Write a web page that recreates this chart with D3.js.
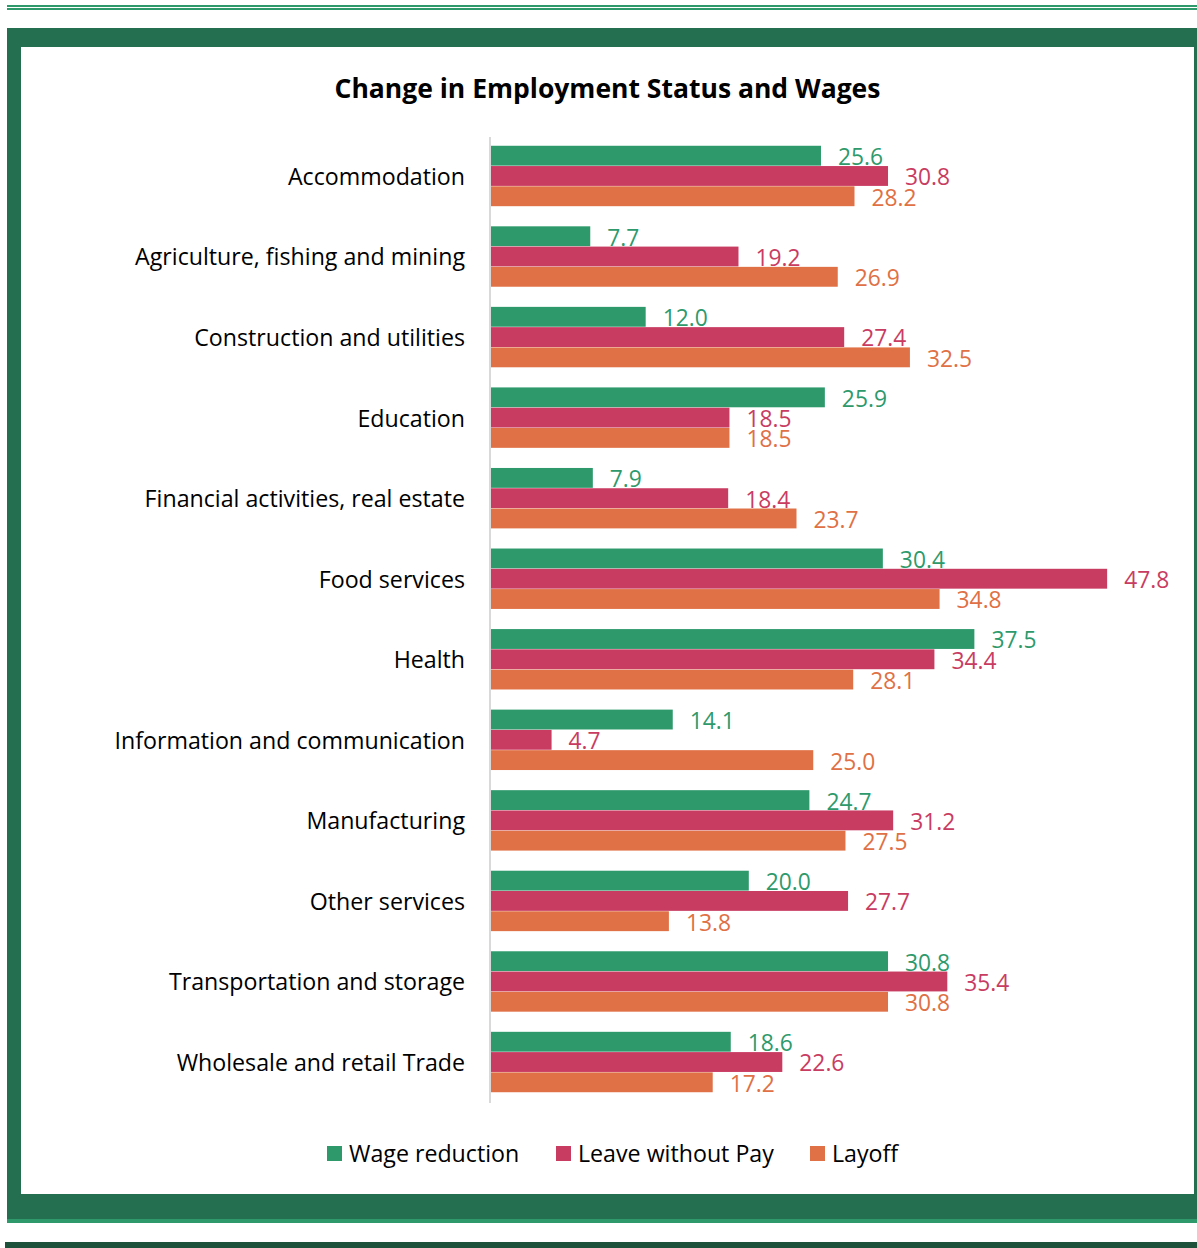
<!DOCTYPE html>
<html>
<head>
<meta charset="utf-8">
<script src="https://cdn.jsdelivr.net/npm/d3@7"></script>
<style>
  html, body { margin: 0; padding: 0; background: #ffffff; }
  svg { display: block; }
</style>
</head>
<body>
<script>
const categories = [
  "Accommodation",
  "Agriculture, fishing and mining",
  "Construction and utilities",
  "Education",
  "Financial activities, real estate",
  "Food services",
  "Health",
  "Information and communication",
  "Manufacturing",
  "Other services",
  "Transportation and storage",
  "Wholesale and retail Trade"
];
const seriesNames = ["Wage reduction", "Leave without Pay", "Layoff"];
const wageReduction = [25.6, 7.7, 12.0, 25.9, 7.9, 30.4, 37.5, 14.1, 24.7, 20.0, 30.8, 18.6];
const leaveWithoutPay = [30.8, 19.2, 27.4, 18.5, 18.4, 47.8, 34.4, 4.7, 31.2, 27.7, 35.4, 22.6];
const layoff = [28.2, 26.9, 32.5, 18.5, 23.7, 34.8, 28.1, 25.0, 27.5, 13.8, 30.8, 17.2];
const seriesColors = ["#2e9a6c", "#c93c62", "#e07045"];

const W = 1197, H = 1248;
const FONT = "'Open Sans', 'DejaVu Sans', sans-serif";

const svg = d3.select("body").append("svg").attr("width", W).attr("height", H);

// decorative frame
svg.append("rect").attr("x", 7).attr("y", 5).attr("width", W - 7).attr("height", 2).attr("fill", "#2e9a6c");
svg.append("rect").attr("x", 7).attr("y", 8).attr("width", W - 7).attr("height", 2).attr("fill", "#2e9a6c");
svg.append("rect").attr("x", 7).attr("y", 28).attr("width", W - 7).attr("height", 1219 - 28).attr("fill", "#246f50");
svg.append("rect").attr("x", 7).attr("y", 1219).attr("width", W - 7).attr("height", 4).attr("fill", "#2e9a6c");
svg.append("rect").attr("x", 21).attr("y", 47).attr("width", 1194 - 21).attr("height", 1194 - 47).attr("fill", "#ffffff");
svg.append("rect").attr("x", 5).attr("y", 1242).attr("width", W - 5).attr("height", 6).attr("fill", "#1d5139");

// title
svg.append("text")
  .attr("x", 607.5).attr("y", 98)
  .attr("text-anchor", "middle")
  .attr("font-family", FONT).attr("font-weight", "bold").attr("font-size", 26.5)
  .attr("fill", "#000")
  .text("Change in Employment Status and Wages");

const data = categories.map((c, i) => ({
  cat: c,
  vals: [wageReduction[i], leaveWithoutPay[i], layoff[i]]
}));

const x = d3.scaleLinear().domain([0, 50]).range([491, 491 + 12.89 * 50]);
const y = d3.scaleBand().domain(categories).range([135.7, 1102.3]).paddingInner(0.25).paddingOuter(0.125);
const yi = d3.scaleBand().domain(d3.range(3)).range([0, y.bandwidth()]).paddingInner(0.02);

// axis line
svg.append("line")
  .attr("x1", 490).attr("x2", 490).attr("y1", 137).attr("y2", 1103)
  .attr("stroke", "#d9d9d9").attr("stroke-width", 2);

// category labels
const yAxis = d3.axisLeft(y).tickSize(0).tickPadding(0);
const gAxis = svg.append("g").attr("transform", "translate(465,1.5)").call(yAxis);
gAxis.select(".domain").remove();
gAxis.selectAll("text")
  .attr("font-family", FONT).attr("font-size", 23.2).attr("fill", "#000")
  .attr("dy", "0.32em");

const groups = svg.append("g").selectAll("g").data(data).join("g")
  .attr("transform", d => `translate(0,${y(d.cat)})`);

groups.selectAll("rect").data(d => d.vals).join("rect")
  .attr("x", x(0))
  .attr("y", (v, j) => yi(j))
  .attr("width", v => x(v) - x(0))
  .attr("height", yi.bandwidth())
  .attr("fill", (v, j) => seriesColors[j]);

groups.selectAll("text.val").data(d => d.vals).join("text")
  .attr("class", "val")
  .attr("x", v => x(v) + 17)
  .attr("y", (v, j) => yi(j) + yi.bandwidth() - 0.5)
  .attr("font-family", FONT).attr("font-size", 22.8)
  .attr("fill", (v, j) => seriesColors[j])
  .text(v => v.toFixed(1));

// legend
const legendX = [327, 556, 810];
const lg = svg.append("g").selectAll("g").data(seriesNames).join("g")
  .attr("transform", (d, i) => `translate(${legendX[i]},1146)`);
lg.append("rect").attr("width", 15).attr("height", 15).attr("fill", (d, i) => seriesColors[i]);
lg.append("text").attr("x", 22).attr("y", 15.5)
  .attr("font-family", FONT).attr("font-size", 23.2).attr("fill", "#000")
  .text(d => d);
</script>
</body>
</html>
